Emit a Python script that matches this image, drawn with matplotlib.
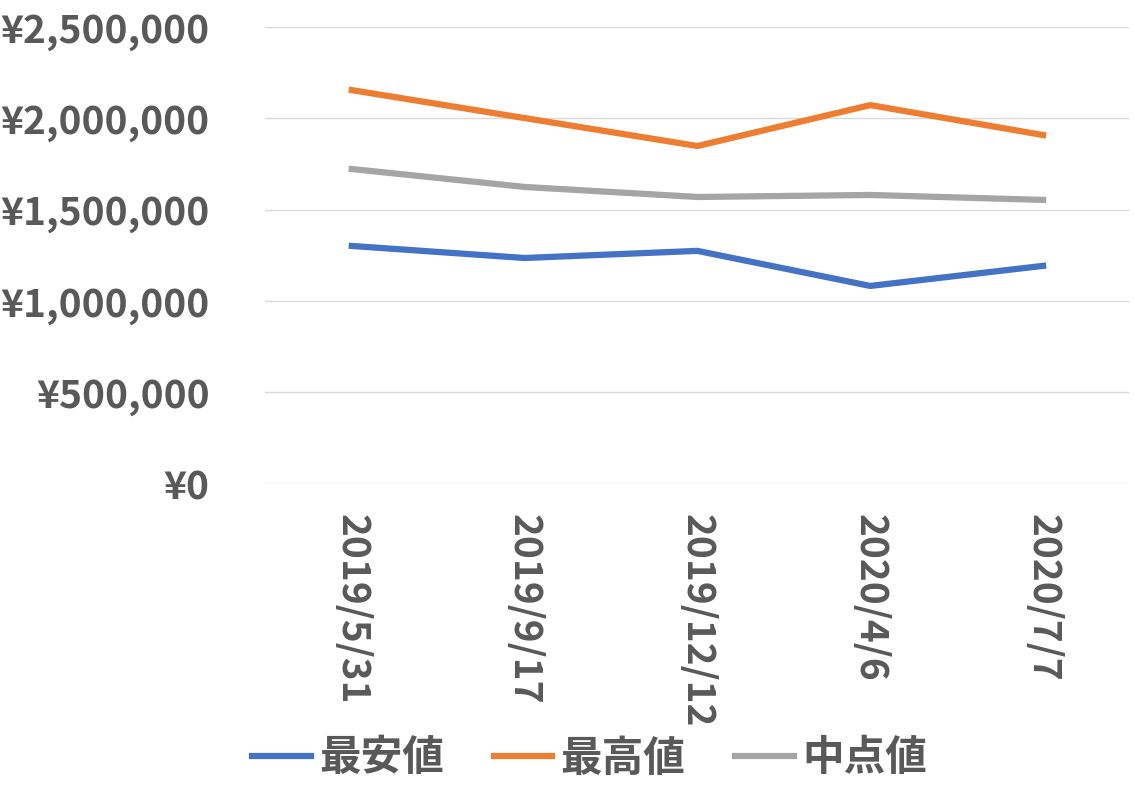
import matplotlib
matplotlib.use("Agg")
from matplotlib import pyplot as plt
from matplotlib.ticker import FuncFormatter

dates = ["2019/5/31", "2019/9/17", "2019/12/12", "2020/4/6", "2020/7/7"]
low = [1302000, 1236000, 1275000, 1083000, 1193000]
high = [2155000, 2002000, 1849000, 2073000, 1909000]
mid = [1723000, 1625000, 1570000, 1581000, 1554000]

plt.rcParams['font.family'] = 'Noto Sans CJK JP'
fig = plt.figure(figsize=(11.34, 7.97), dpi=100)
ax = fig.add_axes([0.234, 0.393, 0.762, 0.573])

x = range(len(dates))
ax.plot(x, low, color='#4472C4', lw=4.5, label='最安値')
ax.plot(x, high, color='#ED7D31', lw=4.5, label='最高値')
ax.plot(x, mid, color='#A5A5A5', lw=4.5, label='中点値')

ax.set_ylim(0, 2500000)
ax.set_xlim(-0.5, 4.5)
ax.set_yticks(range(0, 2500001, 500000))
ax.yaxis.set_major_formatter(FuncFormatter(lambda v, p: '¥{:,.0f}'.format(v)))
ax.set_xticks(list(x))
ax.set_xticklabels(dates, rotation=-90)
ax.grid(axis='y', color='#D9D9D9', lw=1)
ax.set_axisbelow(True)
for s in ax.spines.values():
    s.set_visible(False)
ax.tick_params(axis='y', length=0, labelsize=28, labelcolor='#595959', pad=40)
ax.tick_params(axis='x', length=0, labelsize=28, labelcolor='#595959', pad=22)
for t in ax.get_xticklabels() + ax.get_yticklabels():
    t.set_fontweight('bold')

fig.legend(loc='lower center', bbox_to_anchor=(0.52, -0.025), ncol=3, frameon=False,
           prop={'size': 30, 'weight': 'bold'}, handlelength=1.4, columnspacing=1.2,
           handletextpad=0.2, labelcolor='#595959')
fig.savefig('out.png')
